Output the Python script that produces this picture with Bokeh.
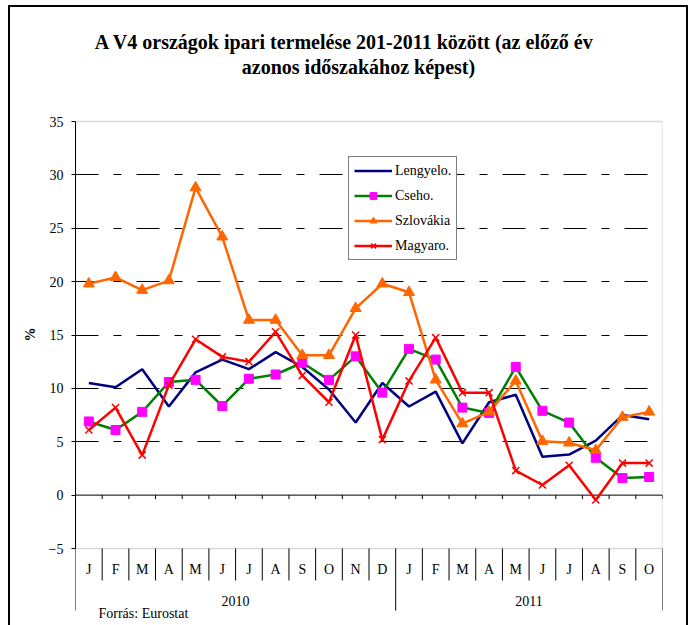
from bokeh.plotting import figure
from bokeh.models import (Range1d, FixedTicker, Span, BoxAnnotation, Title,
                          Legend, LegendItem, ColumnDataSource)
from bokeh.core.properties import value
from bokeh.embed import file_html
from bokeh.resources import INLINE

# ---------------- data ----------------
months = ["J", "F", "M", "A", "M", "J", "J", "A", "S", "O", "N", "D",
          "J", "F", "M", "A", "M", "J", "J", "A", "S", "O"]
years = ["2010", "2011"]
year_counts = [12, 10]

lengyel = [10.5, 10.1, 11.8, 8.3, 11.5, 12.7, 11.8, 13.4, 12.0, 9.9, 6.8, 10.5,
           8.3, 9.7, 4.85, 8.7, 9.4, 3.6, 3.8, 5.1, 7.5, 7.1]
cseh = [6.9, 6.1, 7.8, 10.6, 10.8, 8.35, 10.9, 11.3, 12.4, 10.8, 13.0, 9.6,
        13.7, 12.7, 8.2, 7.7, 12.0, 7.9, 6.8, 3.5, 1.6, 1.7]
szlovak = [19.8, 20.4, 19.2, 20.1, 28.8, 24.2, 16.4, 16.4, 13.1, 13.1, 17.5, 19.8,
           19.0, 10.8, 6.7, 7.8, 10.7, 5.05, 4.9, 4.2, 7.3, 7.8]
magyar = [6.1, 8.2, 3.75, 10.3, 14.6, 12.95, 12.5, 15.3, 11.2, 8.7, 15.0, 5.2,
          10.7, 14.75, 9.6, 9.6, 2.3, 0.95, 2.8, -0.45, 3.0, 3.0]

series_names = ["Lengyelo.", "Cseho.", "Szlovákia", "Magyaro."]
y_ticks = [-5, 0, 5, 10, 15, 20, 25, 30, 35]
grid_levels = [5, 10, 15, 20, 25, 30]

title_lines = ["A V4 országok ipari termelése 201-2011 között (az előző év",
               "azonos időszakához képest)"]
y_label = "%"
source_note = "Forrás: Eurostat"

# ---------------- layout constants (pixels) ----------------
W, H = 688, 625
FL, FR = 75, 662                    # frame left / right (canvas px)
Y35, Y_MINUS5 = 121, 548            # canvas px of the 35 and -5 lines
n = len(months)
PXU = (Y_MINUS5 - Y35) / (35 - (-5))  # px per y-unit
PXX = (FR - FL) / n                   # px per category
y_start = -5 - (H - Y_MINUS5) / PXU
y_end = 35 + Y35 / PXU

def y_at(px):
    """data y of a canvas pixel row"""
    return 35 + (Y35 - px) / PXU

def x_at(px):
    return (px - FL) / PXX

FONT = "Liberation Serif"

border_css = ("linear-gradient(#000,#000) 8px 5px / 2px 640px no-repeat, "
              "linear-gradient(#000,#000) 8px 5px / 680px 2px no-repeat, "
              "linear-gradient(#000,#000) 686px 5px / 2px 640px no-repeat, #fff")

p = figure(width=W, height=H, output_backend="svg", toolbar_location=None,
           x_range=Range1d(0, n), y_range=Range1d(y_start, y_end),
           x_axis_location=None, min_border_left=FL, min_border_right=W - FR,
           min_border_top=0, min_border_bottom=0,
           styles={"background": border_css})
p.outline_line_color = None
p.background_fill_color = "white"
p.background_fill_alpha = 0
p.border_fill_color = None

# y axis
p.yaxis.bounds = (-5, 35)
p.yaxis.ticker = FixedTicker(ticks=y_ticks)
p.yaxis.major_tick_out = 4
p.yaxis.major_tick_in = 0
p.yaxis.minor_tick_line_color = None
p.yaxis.axis_line_color = "black"
p.yaxis.major_tick_line_color = "black"
p.yaxis.major_label_text_font = FONT
p.yaxis.major_label_text_font_size = "14px"
p.yaxis.major_label_text_color = "black"
p.yaxis.major_label_standoff = 8

# y axis title ("%"), centred on the -5..35 span
p.add_layout(Title(text=y_label, align="left", offset=284, standoff=16,
                   text_font=FONT, text_font_size="14px", text_font_style="bold",
                   text_color="black"), "left")

# grid
p.xgrid.visible = False
p.ygrid.ticker = FixedTicker(ticks=grid_levels)
p.ygrid.grid_line_color = "black"
p.ygrid.grid_line_width = 1
p.ygrid.grid_line_dash = "23 15 8 15"

# plot area border
p.add_layout(BoxAnnotation(left=0, right=n, bottom=-5, top=35, fill_alpha=0,
                           line_color="#808080", line_width=1.5, level="underlay"))
# zero line
p.add_layout(Span(location=0, dimension="width", line_color="black",
                  line_width=1, level="underlay"))

# title
p.text(x=[x_at(344), x_at(358)], y=[y_at(41), y_at(66)], text=title_lines,
       text_font=value(FONT), text_font_size="20px", text_font_style="bold",
       text_align="center", text_baseline="middle", text_color="black")

# category box
bounds = list(range(n + 1))
year_bounds = [0]
for c in year_counts:
    year_bounds.append(year_bounds[-1] + c)
short_y = y_at(580)
long_y = y_at(610)
p.segment(x0=bounds, y0=[-5] * len(bounds), x1=bounds,
          y1=[long_y if b in year_bounds else short_y for b in bounds],
          line_color="black", line_width=1)
# ticks on the zero line
p.segment(x0=bounds, y0=[0] * len(bounds), x1=bounds,
          y1=[-4 / PXU] * len(bounds), line_color="black", line_width=1)

centers = [i + 0.5 for i in range(n)]
p.text(x=centers, y=[y_at(569)] * n, text=months, text_font=value(FONT),
       text_font_size="14px", text_align="center", text_baseline="middle",
       text_color="black")
year_centers = [(year_bounds[i] + year_bounds[i + 1]) / 2 for i in range(len(years))]
p.text(x=year_centers, y=[y_at(600)] * len(years), text=years,
       text_font=value(FONT), text_font_size="14px", text_align="center",
       text_baseline="middle", text_color="black")
p.text(x=[x_at(98)], y=[y_at(613)], text=[source_note],
       text_font=value(FONT), text_font_size="14px", text_align="left",
       text_baseline="middle", text_color="black")

# series
src = ColumnDataSource(dict(x=centers, lengyel=lengyel, cseh=cseh,
                            szlovak=szlovak, magyar=magyar))
r1 = p.line("x", "lengyel", source=src, line_color="#000080", line_width=2.5)
r2 = p.line("x", "cseh", source=src, line_color="#008000", line_width=2.5)
r2m = p.scatter("x", "cseh", source=src, marker="square", size=9,
                fill_color="#FF00FF", line_color="#FF00FF")
r3 = p.line("x", "szlovak", source=src, line_color="#FF6600", line_width=2.5)
r3m = p.scatter("x", "szlovak", source=src, marker="triangle", size=11,
                fill_color="#FF6600", line_color="#FF6600")
r4 = p.line("x", "magyar", source=src, line_color="#FF0000", line_width=2.5)
r4m = p.scatter("x", "magyar", source=src, marker="x", size=10,
                line_color="#FF0000", line_width=1.5)

legend = Legend(items=[LegendItem(label=series_names[0], renderers=[r1]),
                       LegendItem(label=series_names[1], renderers=[r2, r2m]),
                       LegendItem(label=series_names[2], renderers=[r3, r3m]),
                       LegendItem(label=series_names[3], renderers=[r4, r4m])],
                location=(273, 365), orientation="vertical",
                border_line_color="black", border_line_width=1,
                background_fill_color="white", background_fill_alpha=1,
                label_text_font=FONT, label_text_font_size="14px",
                label_text_color="black",
                glyph_width=38, glyph_height=17, label_height=17,
                spacing=8, padding=5, margin=0, label_standoff=3)
p.add_layout(legend)

open("out.html", "w").write(file_html(p, INLINE))
